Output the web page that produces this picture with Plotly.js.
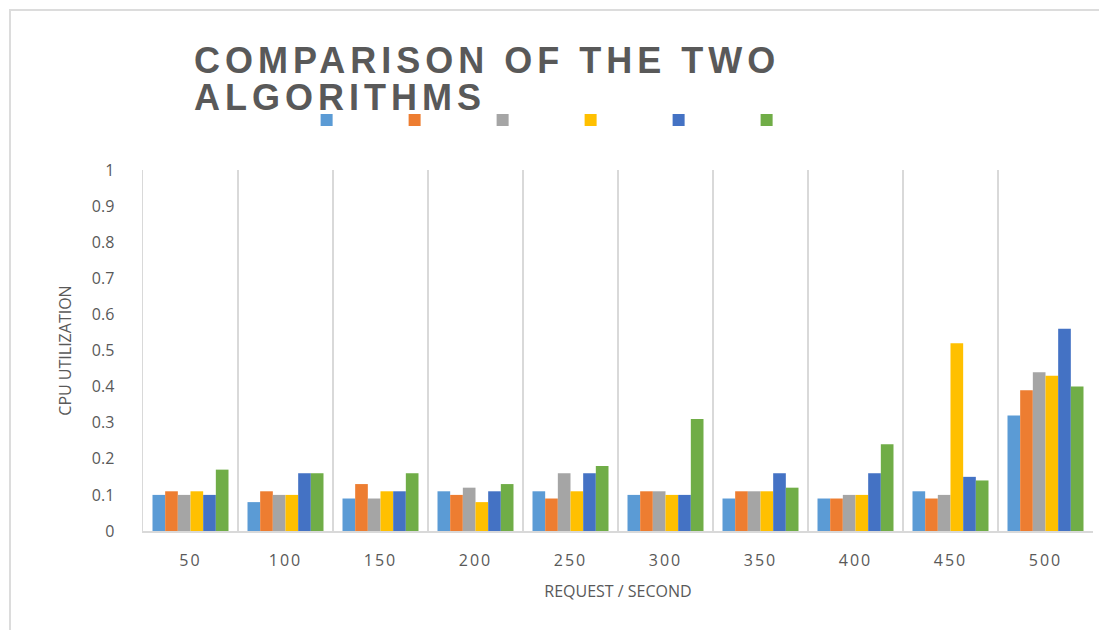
<!DOCTYPE html>
<html>
<head>
<meta charset="utf-8">
<script src="https://cdn.plot.ly/plotly-3.0.1.min.js"></script>
<style>
  html, body { margin: 0; padding: 0; background: #ffffff; overflow: hidden; }
  #wrap { position: relative; width: 1099px; height: 630px; }
  #chart { position: absolute; left: 0; top: 0; width: 1099px; height: 630px; }
  #frame {
    position: absolute; left: 9px; top: 9px; width: 1200px; height: 700px;
    border-left: 2px solid #dcdcdc; border-top: 2px solid #dcdcdc;
    pointer-events: none;
  }
  .annotation-text { letter-spacing: 5px; }
  .xtick text { letter-spacing: 2px; }
</style>
</head>
<body>
<div id="wrap">
  <div id="chart"></div>
  <div id="frame"></div>
</div>
<script>
// Request rates on the x axis
const requests = ['50', '100', '150', '200', '250', '300', '350', '400', '450', '500'];

// CPU utilization for each of the six series
const series1 = [0.10, 0.08, 0.09, 0.11, 0.11, 0.10, 0.09, 0.09, 0.11, 0.32];
const series2 = [0.11, 0.11, 0.13, 0.10, 0.09, 0.11, 0.11, 0.09, 0.09, 0.39];
const series3 = [0.10, 0.10, 0.09, 0.12, 0.16, 0.11, 0.11, 0.10, 0.10, 0.44];
const series4 = [0.11, 0.10, 0.11, 0.08, 0.11, 0.10, 0.11, 0.10, 0.52, 0.43];
const series5 = [0.10, 0.16, 0.11, 0.11, 0.16, 0.10, 0.16, 0.16, 0.15, 0.56];
const series6 = [0.17, 0.16, 0.16, 0.13, 0.18, 0.31, 0.12, 0.24, 0.14, 0.40];

const allSeries = [series1, series2, series3, series4, series5, series6];
const colors = ['#5B9BD5', '#ED7D31', '#A5A5A5', '#FFC000', '#4472C4', '#70AD47'];

const traces = allSeries.map((vals, i) => ({
  type: 'bar',
  x: requests,
  y: vals,
  name: ' ',
  marker: { color: colors[i], line: { width: 0 } },
  hoverinfo: 'x+y'
}));

const grey = '#595959';

const layout = {
  width: 1099,
  height: 630,
  paper_bgcolor: '#ffffff',
  plot_bgcolor: '#ffffff',
  margin: { l: 143, r: 6, t: 170, b: 99, pad: 0 },
  barmode: 'group',
  bargap: 0.2,
  bargroupgap: 0,
  showlegend: true,
  legend: {
    orientation: 'h',
    xref: 'container', yref: 'container',
    x: 0.279, y: 1 - 120 / 630,
    xanchor: 'left', yanchor: 'middle',
    entrywidth: 43, entrywidthmode: 'pixels',
    itemwidth: 30,
    font: { family: 'Open Sans', size: 12, color: grey },
    bgcolor: 'rgba(0,0,0,0)',
    traceorder: 'normal'
  },
  xaxis: {
    type: 'category',
    tickson: 'boundaries',
    showgrid: true,
    gridcolor: '#d9d9d9',
    gridwidth: 1.5,
    showline: true,
    linecolor: '#d9d9d9',
    linewidth: 1.5,
    ticks: '',
    ticklabelstandoff: 14,
    tickfont: { family: 'Open Sans', size: 16, color: grey },
    title: {
      text: 'REQUEST / SECOND',
      font: { family: 'Open Sans', size: 16, color: grey },
      standoff: 16
    },
    fixedrange: true
  },
  yaxis: {
    range: [0, 1],
    dtick: 0.1,
    tick0: 0,
    showgrid: false,
    zeroline: false,
    showline: true,
    linecolor: '#d9d9d9',
    linewidth: 1.5,
    ticks: '',
    ticklabelstandoff: 24,
    tickfont: { family: 'Open Sans', size: 16, color: grey },
    title: {
      text: 'CPU UTILIZATION',
      font: { family: 'Open Sans', size: 16, color: grey },
      standoff: 16
    },
    fixedrange: true
  },
  annotations: [
    {
      text: 'COMPARISON OF THE TWO<br>ALGORITHMS',
      xref: 'paper', yref: 'paper',
      x: (192 - 143) / 950, y: 1 + (170 - 79) / 361,
      xanchor: 'left', yanchor: 'middle',
      align: 'left',
      showarrow: false,
      font: { family: 'Liberation Sans', size: 36, weight: 700, color: grey }
    }
  ]
};

Plotly.newPlot('chart', traces, layout, { staticPlot: true, displayModeBar: false }).then(() => {
  // tighten the leading between the two heading lines
  const lines = document.querySelectorAll('.annotation-text tspan.line');
  if (lines.length === 2) {
    lines[0].setAttribute('dy', '5px');
    lines[1].setAttribute('dy', '42px');
  }
});
</script>
</body>
</html>
